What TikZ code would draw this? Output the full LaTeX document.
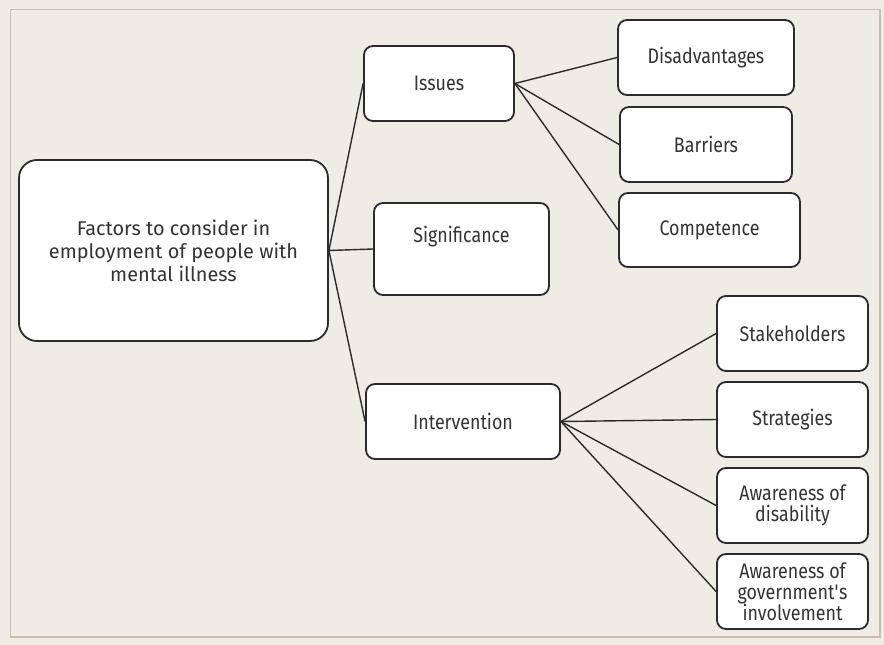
\documentclass[tikz,border=0pt]{standalone}
\usepackage{fontspec}
\setmainfont{Fira Sans}[FakeStretch=0.85]
\newfontfamily\mainboxfont{Fira Sans}
\definecolor{bgcol}{HTML}{EFECE5}
\definecolor{framecol}{HTML}{C9BEAB}
\definecolor{inkcol}{HTML}{2B2B2B}
\definecolor{txtcol}{HTML}{333333}
\begin{document}
\begin{tikzpicture}[x=1pt,y=-1pt,
  box/.style={draw=inkcol, line width=1.8pt, fill=white, rounded corners=9pt,
    inner sep=0pt, align=center, text=txtcol, font=\fontsize{21}{21}\selectfont},
  mainbox/.style={box, rounded corners=18pt, font=\mainboxfont\fontsize{19.9}{23}\selectfont},
  conn/.style={draw=inkcol, line width=1.4pt},
  lbl/.style={inner sep=0pt, align=center, text=txtcol, font=\fontsize{21}{21}\selectfont}
]
\useasboundingbox (0,0) rectangle (884,645);
\fill[bgcol] (0,0) rectangle (884,645);
\draw[framecol, line width=1.6pt] (10.5,9.5) rectangle (880,637);

\node[mainbox, minimum width=309pt, minimum height=181pt] (main) at (173.5,250.5)
  {Factors to consider in\\employment of people with\\mental illness};

\node[box, minimum width=150pt, minimum height=75pt] (issues) at (439,83.5) {Issues};
\node[box, minimum width=175pt, minimum height=92pt] (sig) at (461.5,249) {};
\node[lbl] (sigtxt) at (461.5,237) {Significance};
\node[box, minimum width=194pt, minimum height=75pt] (interv) at (463,421.5) {Intervention};

\node[box, minimum width=176pt, minimum height=75pt] (disadv) at (706,57.5) {Disadvantages};
\node[box, minimum width=172pt, minimum height=75pt] (barr) at (706,144.5) {Barriers};
\node[box, minimum width=181pt, minimum height=74pt] (comp) at (709.5,230) {Competence};

\node[box, minimum width=151pt, minimum height=75pt] (stake) at (792.5,333.5) {Stakeholders};
\node[box, minimum width=151pt, minimum height=75pt] (strat) at (792.5,419.5) {Strategies};
\node[box, minimum width=151pt, minimum height=75pt] (awdis) at (792.5,505.5) {Awareness of\\disability};
\node[box, minimum width=151pt, minimum height=75pt] (awgov) at (792.5,591.5) {Awareness of\\government\textquotesingle s\\involvement};

\draw[conn] (main.east) -- (issues.west);
\draw[conn] (main.east) -- (sig.west);
\draw[conn] (main.east) -- (interv.west);
\draw[conn] (issues.east) -- (disadv.west);
\draw[conn] (issues.east) -- (barr.west);
\draw[conn] (issues.east) -- (comp.west);
\draw[conn] (interv.east) -- (stake.west);
\draw[conn] (interv.east) -- (strat.west);
\draw[conn] (interv.east) -- (awdis.west);
\draw[conn] (interv.east) -- (awgov.west);
\end{tikzpicture}
\end{document}
